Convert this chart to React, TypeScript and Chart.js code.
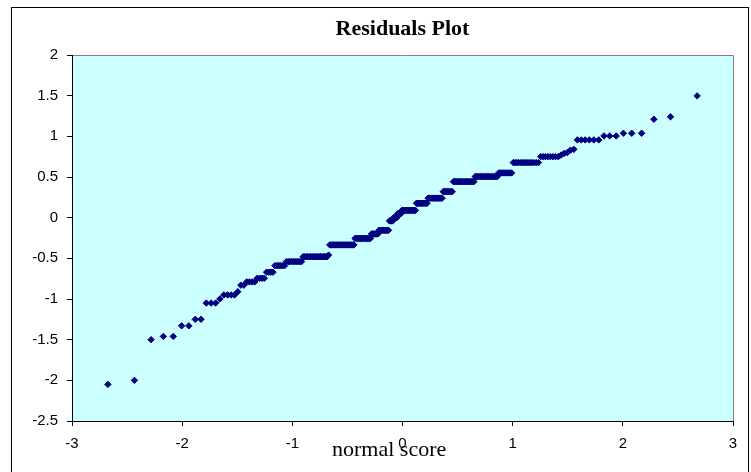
import React, { useEffect, useRef } from "react";
import { Chart, registerables } from "chart.js";

Chart.register(...registerables);

// Sorted residual values, grouped as (level, how many observations share it)
const residualLevels = [
  -2.05, -2.0, -1.5, -1.46, -1.33, -1.25, -1.05, -1.0, -0.95, -0.91,
  -0.83, -0.79, -0.745, -0.67, -0.59, -0.54, -0.48, -0.46, -0.335, -0.255,
  -0.2, -0.155, -0.04, 0.0, 0.05, 0.09, 0.177, 0.24, 0.32, 0.443,
  0.505, 0.55, 0.677, 0.75, 0.77, 0.79, 0.8, 0.83, 0.84, 0.956,
  1.005, 1.038, 1.21, 1.24, 1.497,
];
const residualCounts = [
  1, 1, 1, 2, 2, 2, 3, 1, 4, 1,
  2, 4, 4, 4, 6, 10, 18, 1, 21, 15,
  7, 10, 4, 4, 4, 14, 11, 14, 9, 18,
  17, 9, 14, 8, 1, 1, 1, 1, 1, 6,
  3, 3, 1, 1, 1,
];

const xTicks = [-3, -2, -1, 0, 1, 2, 3];
const yTicks = [-2.5, -2, -1.5, -1, -0.5, 0, 0.5, 1, 1.5, 2];

const chartTitle = "Residuals Plot";
const xAxisTitle = "normal score";

// Inverse of the standard normal CDF (Acklam's rational approximation)
function normInv(p: number): number {
  const a = [-39.69683028665376, 220.9460984245205, -275.9285104469687, 138.357751867269, -30.66479806614716, 2.506628277459239];
  const b = [-54.47609879822406, 161.5858368580409, -155.6989798598866, 66.80131188771972, -13.28068155288572];
  const c = [-0.007784894002430293, -0.3223964580411365, -2.400758277161838, -2.549732539343734, 4.374664141464968, 2.938163982698783];
  const d = [0.007784695709041462, 0.3224671290700398, 2.445134137142996, 3.754408661907416];
  const pl = 0.02425;
  if (p < pl) {
    const q = Math.sqrt(-2 * Math.log(p));
    return (((((c[0] * q + c[1]) * q + c[2]) * q + c[3]) * q + c[4]) * q + c[5]) /
      ((((d[0] * q + d[1]) * q + d[2]) * q + d[3]) * q + 1);
  }
  if (p > 1 - pl) {
    const q = Math.sqrt(-2 * Math.log(1 - p));
    return -(((((c[0] * q + c[1]) * q + c[2]) * q + c[3]) * q + c[4]) * q + c[5]) /
      ((((d[0] * q + d[1]) * q + d[2]) * q + d[3]) * q + 1);
  }
  const q = p - 0.5;
  const r = q * q;
  return (((((a[0] * r + a[1]) * r + a[2]) * r + a[3]) * r + a[4]) * r + a[5]) * q /
    (((((b[0] * r + b[1]) * r + b[2]) * r + b[3]) * r + b[4]) * r + 1);
}

// Each residual is plotted against the normal score of its rank
function buildPoints() {
  const residuals: number[] = [];
  residualLevels.forEach((v, k) => {
    for (let j = 0; j < residualCounts[k]; j++) residuals.push(v);
  });
  const n = residuals.length;
  return residuals.map((r, i) => ({ x: normInv((i + 1) / (n + 1)), y: r }));
}

const SERIF = "'Liberation Serif', 'Times New Roman', serif";
const SANS = "'Liberation Sans', Arial, sans-serif";

const excelFrame = {
  id: "excelFrame",
  beforeDraw(chart: any) {
    const { ctx, chartArea: a } = chart;
    ctx.save();
    ctx.fillStyle = "#ffffff";
    ctx.fillRect(0, 0, chart.width, chart.height);
    // chart area border
    ctx.strokeStyle = "#000000";
    ctx.lineWidth = 1;
    ctx.strokeRect(11.5, 7.5, 737, 470);
    // plot area
    ctx.fillStyle = "#CCFFFF";
    ctx.fillRect(a.left, a.top, a.right - a.left, a.bottom - a.top);
    ctx.strokeStyle = "#808080";
    ctx.beginPath();
    ctx.moveTo(a.left, a.top + 0.5);
    ctx.lineTo(a.right + 0.5, a.top + 0.5);
    ctx.lineTo(a.right + 0.5, a.bottom);
    ctx.stroke();
    ctx.restore();
  },
  afterDraw(chart: any) {
    const { ctx, chartArea: a } = chart;
    ctx.save();
    ctx.fillStyle = "#000000";
    ctx.textAlign = "center";
    ctx.textBaseline = "alphabetic";
    ctx.font = `bold 22px ${SERIF}`;
    ctx.fillText(chartTitle, (a.left + a.right) / 2, a.top - 20);
    ctx.textAlign = "left";
    ctx.font = `22px ${SERIF}`;
    ctx.fillText(xAxisTitle, a.left + 260, a.bottom + 35);
    ctx.restore();
  },
};

export default function App() {
  const ref = useRef<HTMLCanvasElement | null>(null);

  useEffect(() => {
    if (!ref.current) return;
    const tickFont = { family: SANS, size: 15 };
    const chart = new Chart(ref.current, {
      type: "scatter",
      data: {
        datasets: [
          {
            data: buildPoints(),
            pointStyle: "rectRot",
            pointRadius: 3.2,
            pointBorderWidth: 1,
            backgroundColor: "#000080",
            borderColor: "#000080",
          },
        ],
      },
      options: {
        responsive: false,
        animation: false,
        devicePixelRatio: 1,
        layout: { padding: { left: 0, right: 18, top: 55, bottom: 0 } },
        plugins: {
          legend: { display: false },
          title: { display: false },
          tooltip: { enabled: false },
        },
        scales: {
          x: {
            type: "linear",
            min: xTicks[0],
            max: xTicks[xTicks.length - 1],
            afterBuildTicks: (s: any) => { s.ticks = xTicks.map((v) => ({ value: v })); },
            afterFit: (s: any) => { s.height = 51; },
            ticks: {
              color: "#000000",
              font: tickFont,
              padding: 9,
              maxRotation: 0,
              callback: (v: any) => String(v),
            },
            grid: { drawOnChartArea: false, drawTicks: true, tickLength: 5, color: "#000000" },
            border: { display: true, color: "#000000", width: 1 },
          },
          y: {
            type: "linear",
            min: yTicks[0],
            max: yTicks[yTicks.length - 1],
            afterBuildTicks: (s: any) => { s.ticks = yTicks.map((v) => ({ value: v })); },
            afterFit: (s: any) => { s.width = 72; },
            ticks: {
              color: "#000000",
              font: tickFont,
              padding: 9,
              callback: (v: any) => String(v),
            },
            grid: { drawOnChartArea: false, drawTicks: true, tickLength: 5, color: "#000000" },
            border: { display: true, color: "#000000", width: 1 },
          },
        },
      },
      plugins: [excelFrame],
    });
    return () => chart.destroy();
  }, []);

  return (
    <div style={{ position: "fixed", left: 0, top: 0, width: 751, height: 472 }}>
      <canvas ref={ref} width={751} height={472} />
    </div>
  );
}
